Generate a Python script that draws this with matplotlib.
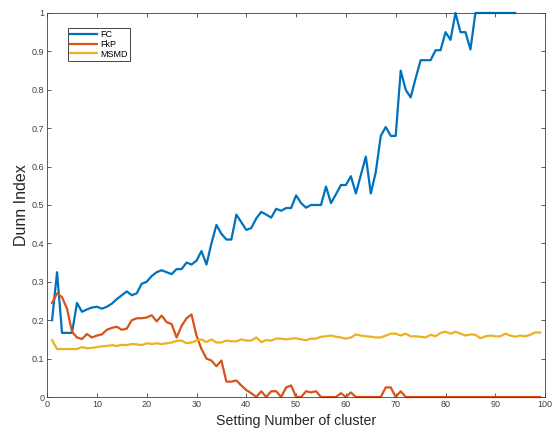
import matplotlib
matplotlib.use("Agg")
import matplotlib.pyplot as plt
import numpy as np

plt.rcParams["font.family"] = ["Liberation Sans", "DejaVu Sans"]

# Dunn index values per setting number of clusters
fc_k = list(range(1, 95))
fc = [0.200, 0.325, 0.167, 0.167, 0.167, 0.245, 0.222, 0.228, 0.233, 0.235,
      0.230, 0.235, 0.243, 0.255, 0.265, 0.275, 0.265, 0.270, 0.295, 0.300,
      0.315, 0.325, 0.330, 0.325, 0.320, 0.333, 0.333, 0.350, 0.345, 0.355,
      0.380, 0.345, 0.400, 0.448, 0.425, 0.410, 0.410, 0.475, 0.455, 0.435,
      0.440, 0.465, 0.482, 0.475, 0.467, 0.490, 0.485, 0.492, 0.492, 0.525,
      0.505, 0.493, 0.500, 0.500, 0.500, 0.548, 0.505, 0.528, 0.552, 0.552,
      0.575, 0.530, 0.578, 0.626, 0.530, 0.586, 0.680, 0.703, 0.680, 0.680,
      0.850, 0.800, 0.780, 0.830, 0.877, 0.877, 0.877, 0.903, 0.903, 0.950,
      0.930, 1.000, 0.950, 0.950, 0.905, 1.000, 1.000, 1.000, 1.000, 1.000,
      1.000, 1.000, 1.000, 1.000]

k = list(range(1, 100))
fkp = [0.245, 0.270, 0.260, 0.230, 0.170, 0.155, 0.151, 0.164, 0.155, 0.160,
       0.163, 0.175, 0.180, 0.183, 0.175, 0.178, 0.200, 0.205, 0.205, 0.207,
       0.213, 0.197, 0.212, 0.195, 0.190, 0.155, 0.185, 0.205, 0.215, 0.160,
       0.125, 0.100, 0.095, 0.080, 0.095, 0.040, 0.040, 0.043, 0.030, 0.018,
       0.010, 0.000, 0.015, 0.000, 0.015, 0.015, 0.000, 0.025, 0.030, 0.000,
       0.000, 0.015, 0.012, 0.015, 0.000, 0.000, 0.000, 0.000, 0.010, 0.000,
       0.012, 0.000, 0.000, 0.000, 0.000, 0.000, 0.000, 0.025, 0.025, 0.000,
       0.015, 0.000, 0.000, 0.000, 0.000, 0.000, 0.000, 0.000, 0.000, 0.000,
       0.000, 0.000, 0.000, 0.000, 0.000, 0.000, 0.000, 0.000, 0.000, 0.000,
       0.000, 0.000, 0.000, 0.000, 0.000, 0.000, 0.000, 0.000, 0.000]
msmd = [0.148, 0.125, 0.125, 0.125, 0.125, 0.125, 0.130, 0.127, 0.128, 0.130,
        0.132, 0.133, 0.135, 0.133, 0.136, 0.135, 0.138, 0.137, 0.135, 0.140,
        0.138, 0.140, 0.138, 0.140, 0.142, 0.146, 0.147, 0.140, 0.142, 0.147,
        0.150, 0.143, 0.150, 0.142, 0.142, 0.147, 0.145, 0.145, 0.150, 0.147,
        0.147, 0.155, 0.143, 0.148, 0.147, 0.152, 0.152, 0.150, 0.152, 0.153,
        0.150, 0.148, 0.152, 0.152, 0.157, 0.158, 0.160, 0.157, 0.155, 0.152,
        0.155, 0.163, 0.160, 0.158, 0.157, 0.155, 0.155, 0.160, 0.165, 0.165,
        0.160, 0.165, 0.158, 0.158, 0.157, 0.155, 0.162, 0.158, 0.167, 0.170,
        0.165, 0.170, 0.165, 0.160, 0.163, 0.162, 0.153, 0.158, 0.160, 0.158,
        0.158, 0.165, 0.160, 0.157, 0.160, 0.158, 0.162, 0.168, 0.168]

fig = plt.figure(figsize=(5.54, 4.32), dpi=100)
ax = fig.add_axes([0.085, 0.081, 0.899, 0.889])

ax.plot(fc_k, fc, color="#0072BD", lw=1.6, label="FC", clip_on=False)
ax.plot(k, fkp, color="#D95319", lw=1.6, label="FkP", clip_on=False)
ax.plot(k, msmd, color="#EDB120", lw=1.6, label="MSMD")

ax.set_xlim(0, 100)
ax.set_ylim(0, 1)
ax.set_xticks(np.arange(0, 101, 10))
ax.set_yticks(np.arange(0, 1.01, 0.1))
ax.set_yticklabels(["0", "0.1", "0.2", "0.3", "0.4", "0.5", "0.6", "0.7", "0.8", "0.9", "1"])
ax.tick_params(direction="in", top=True, right=True, length=3, width=0.6,
               labelsize=6.5, labelcolor="#404040", color="#404040", pad=2)
for s in ax.spines.values():
    s.set_linewidth(0.6)
    s.set_color("#404040")

ax.set_xlabel("Setting Number of cluster", fontsize=10.2, color="#262626", labelpad=4)
ax.set_ylabel("Dunn Index", fontsize=11.5, color="#262626", labelpad=2)

leg = ax.legend(loc="upper left", bbox_to_anchor=(0.042, 0.962), borderaxespad=0,
                fontsize=6.5, handlelength=3.0, handletextpad=0.3, borderpad=0.25,
                labelspacing=0.1, fancybox=False, framealpha=1)
leg.get_frame().set_edgecolor("#262626")
leg.get_frame().set_linewidth(0.6)

fig.savefig("out.png", dpi=100)
